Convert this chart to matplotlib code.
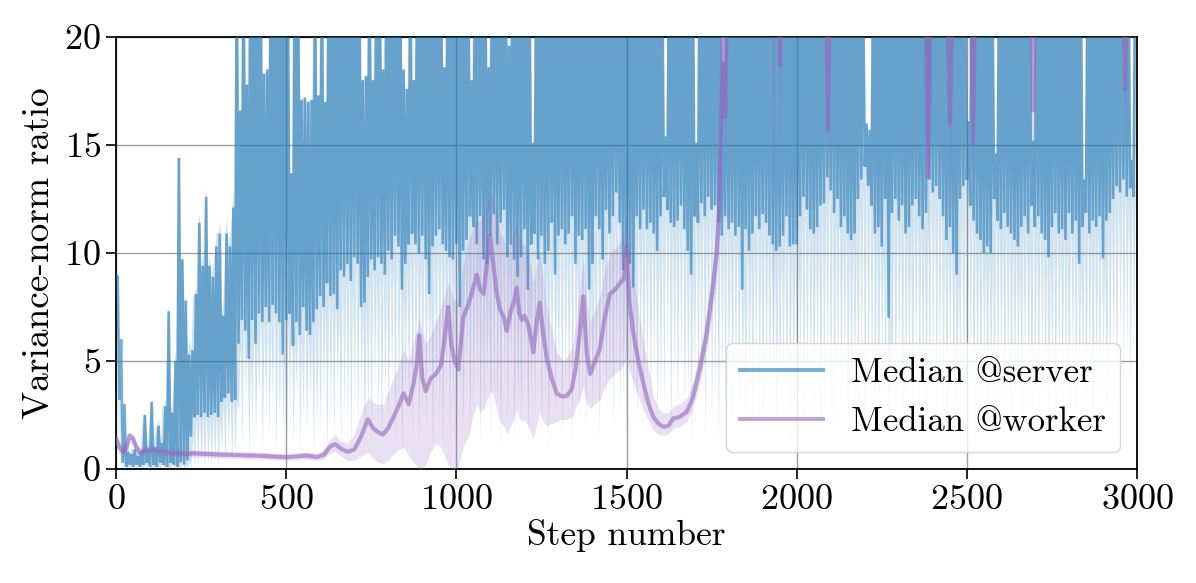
import numpy as np
import matplotlib
matplotlib.use('Agg')
import matplotlib.pyplot as plt

plt.rcParams['font.family'] = ['cmr10', 'DejaVu Serif']
plt.rcParams['mathtext.fontset'] = 'cm'
plt.rcParams['axes.formatter.use_mathtext'] = True

# ---------------- data ----------------
CELL = 10  # server median sampled per 10 steps: trough at s, peak at s+5

server_low = [
    9.0, 3.2, 0.3, 0.1, 0.2, 0.1, 0.2, 0.1, 0.2, 0.3,
    0.1, 0.2, 0.1, 0.3, 0.2, 0.1, 0.3, 0.2, 0.1, 0.3,
    0.2, 0.4, 1.5, 2.4, 2.5, 2.4, 2.6, 2.4, 2.5, 2.6,
    2.4, 3.1, 3.3, 3.5, 3.1, 3.2, 5.8, 6.9, 6.4, 5.1,
    6.9, 5.8, 7.2, 6.8, 7.5, 6.8, 7.6, 7.2, 6.8, 5.3,
    6.9, 7.2, 5.7, 6.8, 6.2, 7.5, 6.4, 6.2, 6.8, 7.4,
    8.0, 7.5, 8.6, 8.0, 8.1, 7.4, 9.2, 8.9, 9.5, 8.7,
    9.8, 9.5, 7.5, 7.7, 8.9, 9.7, 9.2, 9.8, 9.5, 9.0,
    10.1, 9.7, 10.8, 10.3, 8.3, 9.5, 10.4, 10.9, 10.4, 10.0,
    10.8, 9.7, 8.1, 10.3, 10.8, 11.1, 10.4, 10.1, 9.8, 9.7,
    10.4, 7.5, 10.1, 10.6, 11.7, 11.2, 10.4, 11.7, 9.7, 9.5,
    10.8, 11.8, 10.4, 11.4, 12.0, 9.8, 10.4, 9.7, 8.9, 9.8,
    11.1, 8.3, 10.4, 10.9, 9.7, 10.8, 9.5, 10.1, 11.4, 9.0,
    10.8, 11.1, 10.4, 10.9, 11.7, 9.5, 10.8, 10.6, 11.1, 8.3,
    9.5, 11.7, 11.1, 9.7, 12.0, 10.9, 11.7, 12.8, 11.4, 9.2,
    9.8, 9.5, 8.4, 11.7, 11.1, 12.0, 11.1, 11.4, 10.9, 10.1,
    11.7, 12.6, 12.0, 11.4, 11.2, 11.5, 12.2, 11.1, 10.1, 9.0,
    11.7, 11.4, 12.3, 11.7, 12.6, 12.0, 12.2, 11.4, 10.8, 11.7,
    11.1, 11.4, 10.8, 11.2, 8.3, 11.1, 10.1, 10.9, 11.7, 11.1,
    11.8, 11.4, 10.8, 10.4, 10.1, 10.3, 10.8, 11.7, 10.3, 10.4,
    10.4, 11.7, 12.6, 12.0, 11.1, 10.9, 11.2, 12.2, 12.3, 13.5,
    12.9, 11.85, 12.5, 11.2, 11.7, 10.9, 10.6, 10.9, 12.5, 13.4,
    14.0, 13.1, 12.2, 10.9, 11.2, 10.3, 12.5, 7.0, 11.85, 12.5,
    11.5, 12.2, 10.9, 11.2, 12.2, 12.5, 11.7, 11.1, 11.85, 13.4,
    12.8, 13.1, 12.5, 11.7, 10.6, 11.2, 10.0, 9.0, 12.5, 13.1,
    13.4, 12.2, 11.5, 10.9, 10.6, 10.0, 10.3, 10.0, 12.5, 11.5,
    11.1, 11.85, 11.2, 10.9, 10.6, 10.3, 11.2, 11.7, 10.9, 12.2,
    11.2, 11.7, 10.9, 10.6, 9.8, 11.2, 11.85, 10.9, 11.1, 10.6,
    11.85, 10.9, 11.5, 9.5, 11.2, 11.85, 10.9, 11.5, 11.2, 11.7,
    9.75, 11.5, 11.85, 12.5, 13.1, 12.8, 13.4, 12.6, 13.0, 12.6,
]

server_high = [
    8.9, 6.0, 3.0, 0.8, 0.7, 0.9, 0.6, 0.8, 2.5, 0.9,
    3.1, 1.0, 2.0, 1.2, 2.9, 7.3, 2.6, 5.0, 14.4, 9.7,
    7.8, 5.3, 5.5, 8.1, 11.4, 9.4, 12.6, 9.4, 8.9, 10.3,
    10.9, 7.1, 10.9, 10.3, 12.1, 24, 16.6, 24, 17.8, 24,
    24, 24, 24, 18.3, 18.5, 24, 24, 24, 24, 24,
    24, 13.7, 24, 24, 17.1, 17.2, 17.0, 17.1, 24, 17.3,
    24, 17.0, 24, 24, 24, 24, 24, 24, 24, 24,
    24, 24, 18.0, 18.2, 24, 18.0, 24, 24, 18.5, 24,
    24, 24, 24, 24, 18.5, 17.6, 24, 18.0, 24, 24,
    24, 24, 24, 24, 24, 24, 18.6, 24, 24, 24,
    24, 24, 24, 24, 18.0, 24, 24, 24, 24, 18.6,
    24, 24, 24, 24, 24, 19.6, 24, 24, 24, 24,
    24, 24, 15.1, 24, 24, 24, 24, 24, 24, 24,
    24, 24, 24, 24, 24, 24, 24, 24, 24, 24,
    24, 24, 24, 24, 24, 24, 24, 24, 24, 24,
    24, 24, 24, 24, 24, 24, 24, 24, 24, 24,
    24, 15.4, 24, 24, 24, 24, 24, 24, 24, 24,
    15.1, 24, 24, 24, 24, 24, 24, 24, 18.9, 24,
    24, 24, 24, 24, 24, 24, 24, 24, 24, 24,
    24, 24, 24, 24, 24, 24, 24, 24, 24, 24,
    24, 24, 24, 24, 24, 24, 24, 24, 24, 24,
    24, 24, 24, 24, 24, 24, 24, 24, 24, 24,
    16.0, 15.7, 24, 24, 24, 24, 24, 24, 24, 24,
    24, 24, 24, 24, 24, 24, 24, 24, 24, 24,
    24, 24, 24, 24, 24, 24, 24, 24, 24, 24,
    16.1, 24, 24, 24, 24, 24, 24, 24, 14.6, 24,
    24, 24, 24, 24, 24, 24, 24, 24, 24, 15.2,
    24, 24, 24, 24, 24, 24, 24, 24, 24, 24,
    24, 24, 24, 24, 13.4, 24, 24, 24, 24, 24,
    24, 24, 24, 24, 24, 24, 24, 24, 14.3, 24,
]

server_band_low = [
    0.0, 0.5, 0.0, 0.0, 0.0, 0.0, 0.0, 0.0, 0.0, 0.0,
    0.0, 0.0, 0.0, 0.0, 0.0, 0.0, 0.0, 0.0, 0.0, 0.0,
    0.0, 0.0, 0.0, 0.1, 0.0, 0.2, 0.0, 0.1, 0.0, 0.3,
    0.0, 0.8, 0.2, 1.2, 0.4, 0.6, 2.6, 1.0, 3.2, 0.4,
    2.0, 1.2, 3.5, 0.8, 2.4, 1.5, 3.0, 0.6, 2.2, 1.8,
    0.3, 2.8, 1.1, 3.6, 0.9, 2.5, 1.4, 3.1, 0.7, 2.0,
    1.6, 3.3, 0.5, 2.7, 1.3, 3.8, 1.0, 2.3, 1.9, 0.6,
    2.9, 1.5, 3.4, 0.8, 2.6, 1.2, 3.9, 2.0, 0.9, 3.1,
    1.7, 4.0, 1.1, 2.8, 0.5, 3.5, 2.2, 1.4, 3.7, 0.9,
    2.5, 1.8, 4.2, 1.0, 3.0, 2.1, 0.7, 3.6, 1.5, 2.7,
    0.4, 3.2, 1.9, 4.4, 1.2, 2.9, 3.8, 1.0, 2.4, 4.1,
    1.6, 3.3, 2.6, 0.9, 3.9, 2.0, 4.5, 1.3, 3.0, 2.2,
    4.0, 1.1, 3.4, 2.7, 4.6, 1.8, 3.1, 0.8, 3.7, 2.4,
    4.3, 1.5, 3.6, 2.9, 1.0, 4.8, 2.2, 3.5, 1.7, 4.1,
    2.6, 3.9, 1.2, 4.4, 2.8, 3.2, 1.9, 4.7, 2.3, 3.6,
    1.4, 4.2, 3.0, 2.1, 4.9, 1.6, 3.8, 2.5, 4.5, 1.8,
    3.4, 2.7, 5.0, 1.3, 3.9, 2.4, 4.6, 2.0, 3.3, 1.1,
    4.3, 2.8, 3.7, 1.5, 4.8, 2.2, 3.5, 1.0, 4.1, 2.6,
    3.0, 0.5, 4.4, 1.8, 2.9, 0.8, 3.6, 1.4, 4.0, 2.3,
    0.6, 3.2, 1.7, 4.5, 0.9, 2.6, 3.8, 1.2, 0.4, 3.0,
    1.9, 4.2, 0.7, 2.8, 3.5, 1.1, 4.6, 0.3, 2.4, 3.9,
    1.5, 0.6, 3.3, 2.0, 4.7, 0.9, 2.7, 3.6, 1.3, 4.1,
    0.5, 2.9, 3.8, 1.6, 0.8, 4.3, 2.2, 0.4, 3.4, 1.9,
    4.8, 1.0, 2.6, 3.7, 0.7, 4.0, 1.8, 3.1, 0.3, 2.5,
    4.4, 1.2, 3.5, 2.0, 0.6, 4.9, 1.7, 0.9, 3.8, 2.7,
    1.1, 4.2, 0.5, 3.0, 2.3, 4.6, 1.4, 3.3, 0.8, 2.1,
    4.5, 1.6, 3.9, 0.4, 2.8, 3.6, 1.0, 4.7, 2.4, 0.7,
    3.2, 1.8, 4.1, 2.6, 0.9, 3.7, 1.3, 4.4, 2.0, 3.1,
    0.6, 4.8, 1.5, 2.9, 3.8, 1.1, 4.2, 0.8, 3.4, 2.2,
    4.6, 1.9, 3.5, 5.2, 2.7, 6.0, 4.3, 5.5, 3.9, 6.2,
]

# upper quantile of the server band over the first 360 steps (later it is off the chart)
server_band_high_early = [
    1.2, 1.5, 0.9, 1.2, 1.0, 1.5, 1.1, 2.0, 2.6, 1.6,
    3.2, 2.0, 2.4, 3.0, 3.2, 7.5, 3.0, 5.5, 14.6, 9.9,
    8.0, 6.0, 8.0, 8.5, 11.8, 10.0, 13.0, 10.0, 9.5, 11.0,
    11.5, 8.0, 11.5, 11.0, 13.0, 24.0,
]

worker_steps = [
    0, 5, 10, 20, 30, 40, 50, 60, 70, 85, 100, 120, 140, 160, 180, 200, 230, 260,
    290, 320, 350, 380, 410, 440, 470, 500, 530, 560, 590, 610, 630, 645, 660, 680,
    700, 720, 740, 755, 770, 785, 800, 815, 830, 845, 860, 875, 885, 891, 900, 910,
    925, 940, 955, 965, 976, 985, 995, 1006, 1020, 1035, 1050, 1060, 1070, 1080,
    1090, 1099, 1108, 1118, 1128, 1140, 1148, 1160, 1170, 1177, 1185, 1192, 1200,
    1211, 1220, 1226, 1235, 1245, 1255, 1265, 1280, 1295, 1305, 1314, 1325, 1339,
    1350, 1362, 1373, 1383, 1393, 1408, 1422, 1436, 1451, 1466, 1481, 1492, 1500,
    1508, 1520, 1535, 1549, 1565, 1579, 1594, 1608, 1623, 1638, 1655, 1677, 1695,
    1716, 1735, 1755, 1765, 1772, 1778, 1785, 1790, 1796, 1926, 1931, 1936, 1945,
    1951, 1957, 2085, 2092, 2099, 2378, 2386, 2394, 2440, 2450, 2460, 2510, 2518,
    2526, 2688, 2695, 2702, 2958, 2965, 2972, 3000,
]
worker_median = [
    1.4, 1.2, 1.0, 0.8, 1.0, 1.55, 1.4, 1.0, 0.75, 0.85, 0.9, 0.85, 0.8, 0.75, 0.72, 0.7, 0.72, 0.7,
    0.68, 0.66, 0.65, 0.63, 0.62, 0.6, 0.57, 0.55, 0.58, 0.62, 0.55, 0.65, 1.05, 1.15, 0.95, 0.8,
    0.9, 1.5, 2.3, 1.9, 1.7, 1.6, 1.9, 2.4, 2.9, 3.5, 3.0, 4.0, 5.0, 6.2, 4.2, 3.6,
    4.2, 4.4, 4.8, 6.0, 7.5, 5.8, 5.0, 4.6, 7.0, 7.6, 8.4, 9.0, 8.3, 8.1,
    9.5, 10.8, 9.6, 8.2, 7.4, 7.0, 6.4, 7.3, 7.8, 8.4, 7.2, 6.9, 7.1,
    6.7, 6.0, 5.4, 6.7, 7.7, 6.3, 5.2, 4.2, 3.5, 3.4, 3.35, 3.4, 3.7,
    4.6, 6.2, 8.0, 5.4, 4.4, 5.0, 5.6, 7.0, 8.1, 8.3, 8.6, 8.8, 10.3,
    7.8, 6.3, 5.0, 4.0, 3.0, 2.4, 2.1, 1.95, 2.0, 2.35, 2.4, 2.65, 3.3,
    4.7, 6.2, 8.6, 10.0, 12.0, 16.0, 22.0, 16.3, 24, 24, 24, 24, 24,
    18.7, 24, 24, 15.7, 24, 24, 13.5, 24, 24, 16.0, 24, 24, 15.1,
    24, 24, 16.6, 24, 24, 17.6, 24, 24,
]
worker_low = [
    1.1, 0.9, 0.7, 0.5, 0.7, 1.2, 1.1, 0.8, 0.55, 0.65, 0.7, 0.65, 0.6, 0.6, 0.55, 0.55, 0.55, 0.55,
    0.52, 0.5, 0.5, 0.48, 0.46, 0.45, 0.42, 0.4, 0.42, 0.45, 0.4, 0.45, 0.75, 0.8, 0.6, 0.4,
    0.4, 0.6, 0.8, 0.5, 0.3, 0.25, 0.4, 0.7, 0.9, 1.0, 0.6, 0.3, 0.1, 0.0, 0.0, 0.2,
    0.8, 1.2, 1.0, 0.6, 0.2, 0.0, 0.0, 0.1, 1.0, 1.5, 2.5, 3.0, 2.6, 2.8,
    3.2, 3.6, 3.5, 2.8, 2.2, 2.0, 1.6, 2.0, 2.4, 2.8, 2.4, 2.2, 2.3,
    2.0, 1.6, 1.4, 2.0, 2.6, 2.2, 2.0, 2.1, 2.2, 2.3, 2.3, 2.3, 2.4,
    2.8, 3.2, 3.8, 3.0, 2.8, 3.0, 3.2, 3.8, 4.2, 4.4, 4.6, 4.8, 5.2,
    4.6, 4.0, 3.3, 2.8, 2.2, 1.8, 1.6, 1.55, 1.6, 1.9, 1.95, 2.2, 2.8,
    4.0, 5.4, 7.6, 8.8, 10.5, 14.0, 19.0, 13.0, 20, 20, 0.0, 20, 20,
    15.0, 20, 20, 12.0, 20, 20, 10.0, 20, 20, 12.0, 20, 20, 11.5,
    20, 20, 13.0, 20, 20, 14.5, 20, 20,
]
worker_high = [
    1.7, 1.5, 1.3, 1.1, 1.3, 1.75, 1.6, 1.2, 1.0, 1.05, 1.1, 1.05, 1.0, 0.95, 0.9, 0.9, 0.9, 0.85,
    0.85, 0.82, 0.8, 0.8, 0.78, 0.76, 0.72, 0.7, 0.74, 0.8, 0.72, 0.9, 1.4, 1.6, 1.3, 1.2,
    1.6, 2.6, 3.3, 3.1, 3.0, 3.0, 3.6, 4.2, 4.8, 5.5, 5.0, 6.0, 6.5, 7.0, 6.3, 5.8,
    6.2, 6.8, 7.5, 8.0, 8.6, 8.2, 7.8, 7.8, 9.5, 10.5, 11.2, 11.5, 11.5, 11.8,
    12.2, 12.8, 12.5, 11.8, 11.0, 10.6, 10.2, 10.6, 11.0, 11.4, 10.8, 10.4, 10.4,
    10.0, 9.2, 8.6, 9.4, 10.0, 9.0, 7.6, 6.4, 5.4, 5.2, 5.0, 5.2, 5.6,
    6.6, 8.2, 9.8, 7.8, 6.8, 7.4, 8.0, 9.2, 10.0, 10.2, 10.5, 10.8, 11.5,
    10.2, 8.8, 7.4, 6.0, 4.6, 3.4, 2.8, 2.6, 2.6, 2.9, 3.0, 3.3, 4.0,
    5.5, 7.2, 9.8, 11.4, 13.8, 18.5, 25, 25, 26, 26, 26, 26, 26,
    26, 26, 26, 26, 26, 26, 26, 26, 26, 26, 26, 26, 26,
    26, 26, 26, 26, 26, 26, 26, 26,
]

x_ticks = [0, 500, 1000, 1500, 2000, 2500, 3000]
y_ticks = [0, 5, 10, 15, 20]
legend_labels = ['Median @server', 'Median @worker']

# ---------------- figure ----------------
BLUE = '#1f77b4'
PURPLE = '#9467bd'

fig = plt.figure(figsize=(11.96, 5.83), dpi=100)
ax = fig.add_axes([116/1196, 1-469/583, (1137-116)/1196, (469-37)/583])

steps = np.arange(len(server_low)) * CELL
x_line = np.column_stack([steps, steps + CELL/2]).ravel()
y_line = np.column_stack([server_low, server_high]).ravel()

band_high_all = server_band_high_early + server_high[len(server_band_high_early):]
lo_band = np.column_stack([server_band_low, server_low]).ravel()
hi_band = np.column_stack([server_high, band_high_all]).ravel()

ax.fill_between(x_line, lo_band, hi_band, color=BLUE, alpha=0.2, lw=0, zorder=2)
ax.plot(x_line, y_line, color=BLUE, alpha=0.6, lw=1.9, zorder=3,
        solid_joinstyle='miter', label=legend_labels[0])
ax.fill_between(worker_steps, worker_low, worker_high, color=PURPLE, alpha=0.2, lw=0, zorder=4)
ax.plot(worker_steps, worker_median, color=PURPLE, alpha=0.6, lw=3.0, zorder=5,
        label=legend_labels[1])

ax.set_xlim(0, 3000)
ax.set_ylim(0, 20)
ax.set_xticks(x_ticks)
ax.set_yticks(y_ticks)
ax.grid(True, color='#a0a0a0', lw=1.0, zorder=1)
ax.set_axisbelow(True)
ax.tick_params(direction='out', length=7, width=1.2, labelsize=26, pad=4)
for sp in ax.spines.values():
    sp.set_linewidth(1.3)

ax.set_xlabel('Step number', fontsize=25.5, labelpad=2)
ax.set_ylabel('Variance-norm ratio', fontsize=27, labelpad=6)

leg = ax.legend(loc='lower right', fontsize=25, framealpha=0.8, fancybox=True,
                handlelength=2.4, edgecolor='#cccccc')
for h in leg.get_lines():
    h.set_linewidth(2.8)

fig.savefig('out.png', dpi=100)
